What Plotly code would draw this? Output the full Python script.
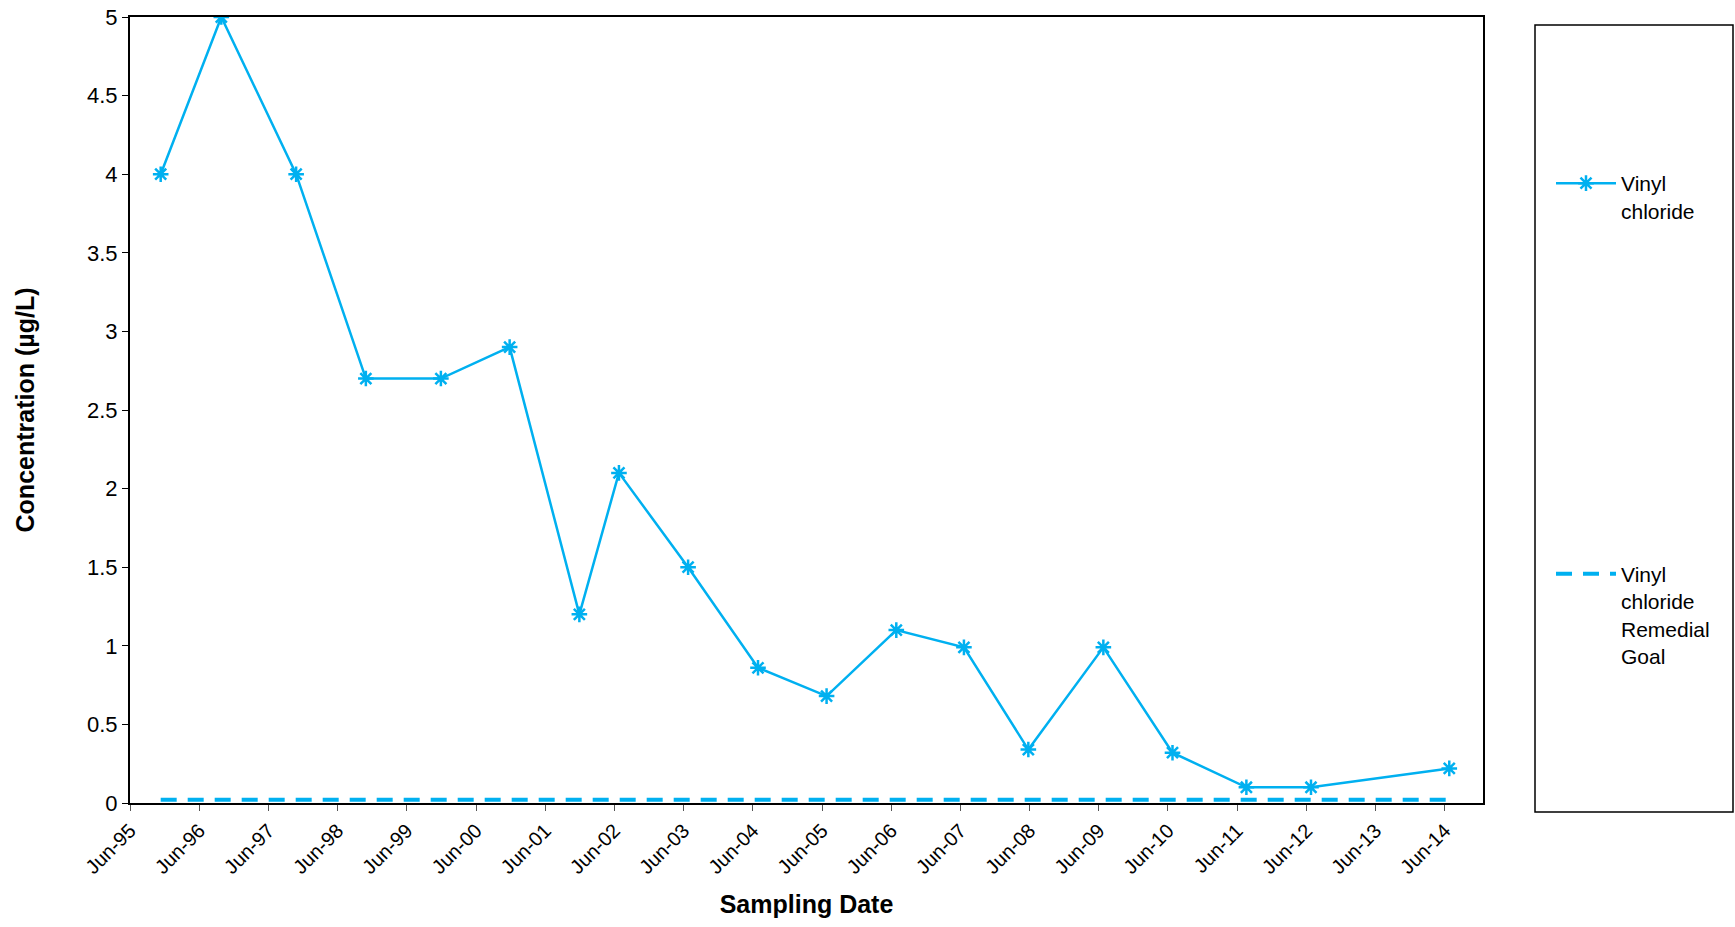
import plotly.graph_objects as go

# Data
sample_dates = ["1995-11-10", "1996-09-25", "1997-10-25", "1998-10-28", "1999-11-28",
                "2000-11-25", "2001-11-28", "2002-06-25", "2003-06-25", "2004-06-28",
                "2005-06-25", "2006-06-28", "2007-06-20", "2008-05-25", "2009-06-25",
                "2010-06-25", "2011-07-20", "2012-06-25", "2014-06-25"]
vinyl_chloride = [4.0, 5.0, 4.0, 2.7, 2.7, 2.9, 1.2, 2.1, 1.5, 0.86,
                  0.68, 1.1, 0.99, 0.34, 0.99, 0.32, 0.1, 0.1, 0.22]
goal_dates = ["1995-11-10", "2014-06-25"]
goal_values = [0.02, 0.02]

color = "#00B0F0"
font_family = "Arial, Liberation Sans, sans-serif"

fig = go.Figure()
fig.add_trace(go.Scatter(
    x=sample_dates, y=vinyl_chloride, mode="lines+markers",
    name="Vinyl<br>chloride", legendgroup="a",
    line=dict(color=color, width=2.5),
    marker=dict(symbol="asterisk-open", size=13, color=color,
                line=dict(color=color, width=2.5)),
))
fig.add_trace(go.Scatter(
    x=goal_dates, y=goal_values, mode="lines",
    name="Vinyl<br>chloride<br>Remedial<br>Goal", legendgroup="b",
    line=dict(color=color, width=4, dash="16px,11px"),
))

W, H = 1735, 927
OFF = 0  # page body margin removed by post_script
ml, mr, mt, mb = 130, 252, 17, 124
pw = W - ml - mr
ph = H - mt - mb

def px_x(x):
    return (x - OFF - ml) / pw

def px_y(y):
    return 1 - (y - OFF - mt) / ph

fig.add_shape(type="rect", xref="paper", yref="paper",
              x0=px_x(1535), x1=px_x(1733), y0=px_y(812), y1=px_y(25),
              line=dict(color="black", width=1.5), fillcolor="rgba(0,0,0,0)")

fig.update_layout(
    width=W, height=H,
    margin=dict(l=ml, r=mr, t=mt, b=mb, autoexpand=False),
    paper_bgcolor="white", plot_bgcolor="white",
    font=dict(family=font_family, size=21, color="black"),
    showlegend=True,
    legend=dict(x=px_x(1551), xanchor="left", y=px_y(163), yanchor="top",
                valign="top", tracegroupgap=333,
                font=dict(size=21, family=font_family),
                bgcolor="rgba(0,0,0,0)", borderwidth=0, itemwidth=60),
    xaxis=dict(
        type="date", range=["1995-06-01", "2014-12-20"], automargin=False,
        tick0="1995-06-01", dtick="M12", tickformat="%b-%y", tickangle=-45,
        ticks="outside", ticklen=6, tickcolor="#555",
        showline=True, linecolor="black", linewidth=2, mirror=True,
        showgrid=False, zeroline=False,
        tickfont=dict(size=20),
        title=dict(text="<b>Sampling Date</b>", font=dict(size=25), standoff=18),
    ),
    yaxis=dict(
        range=[0, 5], dtick=0.5, ticks="outside", ticklen=6, tickcolor="black",
        automargin=False, ticklabeloverflow="allow",
        showline=True, linecolor="black", linewidth=2, mirror=True,
        showgrid=False, zeroline=False,
        tickfont=dict(size=22),
        title=dict(text="<b>Concentration (µg/L)</b>", font=dict(size=25), standoff=45),
    ),
)

fig.write_html("out.html", config={"displayModeBar": False},
               post_script="document.body.style.margin='0';document.body.style.overflow='hidden';")
